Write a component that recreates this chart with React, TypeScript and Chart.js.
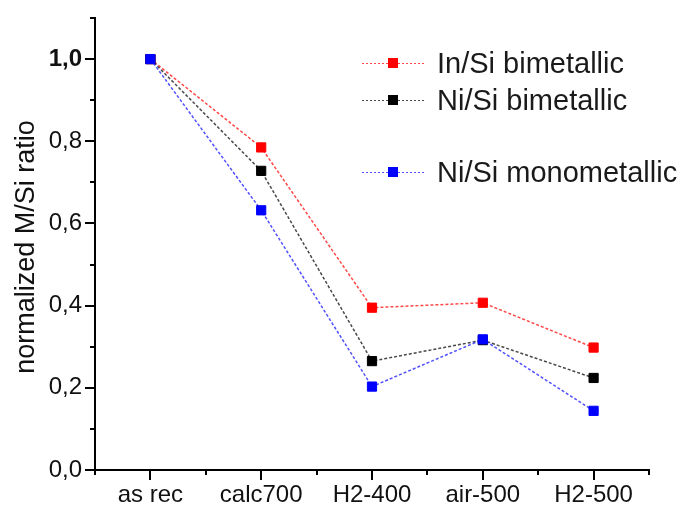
import React, { useEffect, useRef } from "react";
import { Chart, registerables } from "chart.js";

Chart.register(...registerables);

const categories = ["as rec", "calc700", "H2-400", "air-500", "H2-500"];
const inSiBimetallic = [1.0, 0.785, 0.395, 0.407, 0.298];
const niSiBimetallic = [1.0, 0.728, 0.265, 0.316, 0.224];
const niSiMonometallic = [1.0, 0.632, 0.203, 0.318, 0.144];
const seriesNames = ["In/Si bimetallic", "Ni/Si bimetallic", "Ni/Si monometallic"];
const seriesColors = ["#ff0000", "#000000", "#0000ff"];
const lineColors = ["rgba(255,40,40,0.85)", "rgba(40,40,40,0.85)", "rgba(50,50,255,0.85)"];
const yMin = 0;
const yMax = 1.1;
const yStep = 0.1;
const yTitle = "normalized M/Si ratio";

const TICK_FONT = '"Liberation Sans", Arial, sans-serif';
const MAIN_FONT = '"Liberation Sans", Arial, sans-serif';

const decorPlugin = {
  id: "decor",
  beforeDatasetsDraw(chart: any) {
    const { ctx, chartArea } = chart;
    const x = chart.scales.x;
    const y = chart.scales.y;
    ctx.save();
    ctx.strokeStyle = "#000";
    ctx.lineWidth = 2;
    const n = Math.round((yMax - yMin) / yStep);
    for (let i = 0; i <= n; i++) {
      const v = yMin + i * yStep;
      const py = Math.round(y.getPixelForValue(v));
      const len = i % 2 === 0 ? 10 : 5;
      ctx.beginPath();
      ctx.moveTo(chartArea.left - len, py);
      ctx.lineTo(chartArea.left, py);
      ctx.stroke();
    }
    for (let i = 0; i < categories.length; i++) {
      const px = Math.round(x.getPixelForValue(i));
      ctx.beginPath();
      ctx.moveTo(px, chartArea.bottom);
      ctx.lineTo(px, chartArea.bottom + 10);
      ctx.stroke();
    }
    for (let i = 0; i <= categories.length; i++) {
      const px = Math.round(x.getPixelForValue(i - 0.5));
      ctx.beginPath();
      ctx.moveTo(px, chartArea.bottom);
      ctx.lineTo(px, chartArea.bottom + 5);
      ctx.stroke();
    }
    ctx.restore();
  },
  afterDraw(chart: any) {
    const { ctx, chartArea } = chart;
    ctx.save();
    ctx.translate(27, (chartArea.top + chartArea.bottom) / 2 + 3);
    ctx.rotate(-Math.PI / 2);
    ctx.font = `27px ${MAIN_FONT}`;
    ctx.fillStyle = "#111";
    ctx.textAlign = "center";
    ctx.textBaseline = "middle";
    ctx.fillText(yTitle, 0, 0);
    ctx.restore();

    const baselines = [73, 110, 182];
    ctx.save();
    for (let i = 0; i < seriesNames.length; i++) {
      const by = baselines[i];
      const ly = by - 10;
      ctx.strokeStyle = lineColors[i];
      ctx.lineWidth = 1;
      ctx.setLineDash([2, 2]);
      ctx.beginPath();
      ctx.moveTo(362, ly + 0.5);
      ctx.lineTo(425, ly + 0.5);
      ctx.stroke();
      ctx.setLineDash([]);
      ctx.fillStyle = seriesColors[i];
      ctx.fillRect(388, ly - 5, 10, 10);
      ctx.fillStyle = "#1a1a1a";
      ctx.font = `29px ${MAIN_FONT}`;
      ctx.textAlign = "left";
      ctx.textBaseline = "alphabetic";
      ctx.fillText(seriesNames[i], 437, by);
    }
    ctx.restore();
  },
};

export default function App() {
  const canvasRef = useRef<HTMLCanvasElement | null>(null);

  useEffect(() => {
    if (!canvasRef.current) return;
    const seriesData = [inSiBimetallic, niSiBimetallic, niSiMonometallic];
    const orders = [3, 2, 1];
    const chart = new Chart(canvasRef.current, {
      type: "line",
      data: {
        labels: categories,
        datasets: seriesNames.map((name, i) => ({
          label: name,
          data: seriesData[i],
          borderColor: lineColors[i],
          backgroundColor: seriesColors[i],
          borderWidth: 1.5,
          borderDash: [3, 2],
          pointStyle: "rect",
          pointRadius: 6.5,
          pointBorderWidth: 1,
          pointBorderColor: seriesColors[i],
          pointBackgroundColor: seriesColors[i],
          tension: 0,
          order: orders[i],
          fill: false,
        })),
      },
      options: {
        animation: false,
        responsive: false,
        maintainAspectRatio: false,
        layout: { padding: { top: 18, right: 32, left: 0, bottom: 0 } },
        plugins: {
          legend: { display: false },
          tooltip: { enabled: false },
          title: { display: false },
        },
        scales: {
          x: {
            type: "category",
            offset: true,
            grid: { display: false, drawTicks: false },
            border: { display: true, color: "#000", width: 2 },
            ticks: {
              padding: 11,
              color: "#111",
              font: { family: TICK_FONT, size: 24 },
              maxRotation: 0,
              autoSkip: false,
            },
            afterFit: (scale: any) => {
              scale.height = 36;
              scale.paddingLeft = 0;
              scale.paddingRight = 0;
            },
          },
          y: {
            min: yMin,
            max: yMax,
            grid: { display: false, drawTicks: false },
            border: { display: true, color: "#000", width: 2 },
            ticks: {
              stepSize: yStep,
              padding: 13,
              color: "#111",
              font: (c: any) => ({
                family: TICK_FONT,
                size: 24,
                weight: c.tick && Math.abs(c.tick.value - 1) < 1e-6 ? "bold" : "normal",
              }),
              callback: (value: any) => {
                const k = Math.round(Number(value) * 10);
                if (k % 2 !== 0) return "";
                return (k / 10).toFixed(1).replace(".", ",");
              },
            },
            afterFit: (scale: any) => {
              scale.width = 95;
              scale.paddingTop = 0;
              scale.paddingBottom = 0;
            },
          },
        },
      },
      plugins: [decorPlugin],
    } as any);
    return () => chart.destroy();
  }, []);

  return (
    <div style={{ position: "fixed", left: 0, top: 0, width: 681, height: 506, background: "#fff" }}>
      <canvas ref={canvasRef} width={681} height={506} style={{ width: 681, height: 506 }} />
    </div>
  );
}
